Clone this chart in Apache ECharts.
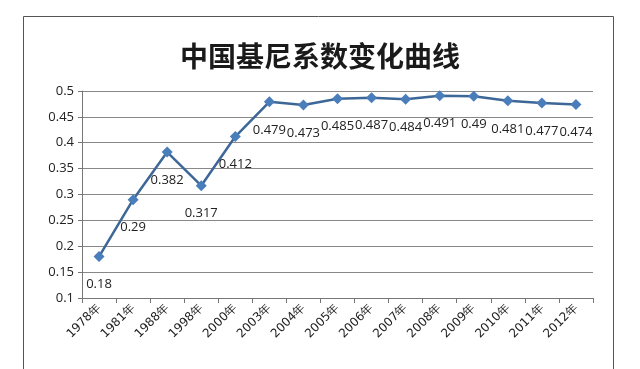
<!DOCTYPE html>
<html><head><meta charset="utf-8">
<script src="https://cdn.jsdelivr.net/npm/echarts@6/dist/echarts.min.js"></script>
<style>html,body{margin:0;padding:0;background:#fff}#c{width:640px;height:369px}</style>
</head><body><div id="c"></div>
<script>
const categories = ['1978年','1981年','1988年','1998年','2000年','2003年','2004年','2005年','2006年','2007年','2008年','2009年','2010年','2011年','2012年'];
const giniValues = [0.18,0.29,0.382,0.317,0.412,0.479,0.473,0.485,0.487,0.484,0.491,0.49,0.481,0.477,0.474];
const chart = echarts.init(document.getElementById('c'));
chart.setOption({
  backgroundColor:'#fff',
  animation:false,
  title:{text:'中国基尼系数变化曲线',left:'center',top:37,textStyle:{fontFamily:'Noto Sans CJK SC',fontSize:28,fontWeight:'bold',color:'#1a1a1a'}},
  graphic:[{type:'rect',shape:{x:23.5,y:16.5,width:590,height:400},style:{fill:'none',stroke:'#555',lineWidth:1},silent:true}],
  grid:{left:82,right:47,top:91,bottom:71},
  xAxis:{type:'category',data:categories,boundaryGap:true,
    axisLine:{lineStyle:{color:'#777'}},
    axisTick:{show:true,lineStyle:{color:'#777'},length:5},
    axisLabel:{rotate:45,fontSize:12,color:'#222',margin:8,fontFamily:'DejaVu Sans',interval:0}},
  yAxis:{type:'value',min:0.1,max:0.5,interval:0.05,
    axisLine:{show:true,lineStyle:{color:'#777'}},
    axisTick:{show:true,length:4,lineStyle:{color:'#777'}},
    axisLabel:{fontSize:13,color:'#222',margin:8,fontFamily:'Open Sans'},
    splitLine:{lineStyle:{color:'#888',width:1}}},
  series:[{type:'line',data:giniValues,symbol:'diamond',symbolSize:11,
    lineStyle:{color:'#3d6797',width:2.5},
    itemStyle:{color:'#4a7ebb'},
    label:{show:true,position:'bottom',distance:16,fontSize:13,color:'#222',fontFamily:'Open Sans'}}]
});
</script></body></html>
